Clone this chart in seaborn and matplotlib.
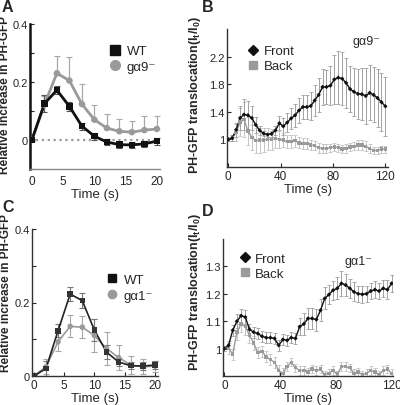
import numpy as np
import matplotlib
matplotlib.use("Agg")
import matplotlib.pyplot as plt
import seaborn as sns
from matplotlib.lines import Line2D

# ---- data ----
t_ac = [0, 2, 4, 6, 8, 10, 12, 14, 16, 18, 20]
a_wt = [0, 0.125, 0.172, 0.116, 0.048, 0.013, -0.007, -0.016, -0.017, -0.013, -0.004]
a_wt_err = [0.005, 0.03, 0.015, 0.015, 0.012, 0.012, 0.01, 0.01, 0.01, 0.01, 0.012]
a_g9 = [0, 0.122, 0.23, 0.205, 0.124, 0.07, 0.041, 0.03, 0.027, 0.034, 0.038]
a_g9_err = [0.005, 0.03, 0.058, 0.082, 0.07, 0.05, 0.048, 0.042, 0.04, 0.05, 0.045]

c_wt = [0, 0.02, 0.123, 0.223, 0.205, 0.125, 0.065, 0.038, 0.028, 0.027, 0.03]
c_wt_err = [0.003, 0.02, 0.018, 0.02, 0.02, 0.03, 0.02, 0.01, 0.01, 0.01, 0.01]
c_g1 = [0, 0.025, 0.093, 0.135, 0.133, 0.11, 0.075, 0.05, 0.03, 0.025, 0.027]
c_g1_err = [0.003, 0.02, 0.025, 0.03, 0.03, 0.045, 0.045, 0.035, 0.025, 0.02, 0.015]

t_bd = list(range(0, 121, 3))
b_front = [1.0, 1.02, 1.14, 1.31, 1.36, 1.35, 1.31, 1.21, 1.13, 1.085, 1.07, 1.08, 1.13, 1.235,
           1.19, 1.245, 1.305, 1.35, 1.42, 1.47, 1.47, 1.485, 1.565, 1.645, 1.76, 1.76, 1.78,
           1.87, 1.895, 1.88, 1.82, 1.73, 1.69, 1.66, 1.655, 1.63, 1.675, 1.645, 1.6, 1.54, 1.48]
b_front_err = [0.02, 0.04, 0.1, 0.18, 0.22, 0.2, 0.18, 0.12, 0.06, 0.04, 0.03, 0.04, 0.06, 0.1,
               0.12, 0.14, 0.15, 0.17, 0.18, 0.18, 0.17, 0.2, 0.22, 0.25, 0.26, 0.25, 0.28, 0.35,
               0.38, 0.38, 0.36, 0.33, 0.35, 0.36, 0.38, 0.4, 0.4, 0.4, 0.42, 0.42, 0.43]
b_back = [1.0, 1.02, 1.1, 1.25, 1.29, 1.12, 1.03, 0.98, 0.99, 0.99, 1.0, 1.0, 1.01, 1.0, 0.99,
          0.97, 0.97, 0.98, 0.95, 0.94, 0.94, 0.92, 0.91, 0.88, 0.87, 0.87, 0.88, 0.89, 0.88,
          0.86, 0.87, 0.89, 0.9, 0.92, 0.92, 0.9, 0.87, 0.84, 0.84, 0.86, 0.86]
b_back_err = [0.03, 0.05, 0.12, 0.2, 0.25, 0.2, 0.18, 0.18, 0.18, 0.17, 0.16, 0.15, 0.14, 0.12,
              0.1, 0.1, 0.09, 0.09, 0.08, 0.08, 0.08, 0.07, 0.07, 0.07, 0.06, 0.06, 0.06, 0.06,
              0.06, 0.06, 0.06, 0.06, 0.06, 0.07, 0.07, 0.07, 0.06, 0.05, 0.05, 0.05, 0.05]

d_front = [1.0, 1.012, 1.067, 1.1, 1.12, 1.115, 1.07, 1.06, 1.055, 1.045, 1.04, 1.04, 1.037,
           1.012, 1.033, 1.03, 1.04, 1.037, 1.08, 1.09, 1.11, 1.11, 1.106, 1.14, 1.183, 1.197,
           1.213, 1.22, 1.238, 1.232, 1.22, 1.207, 1.2, 1.198, 1.2, 1.21, 1.215, 1.21, 1.22,
           1.215, 1.238]
d_front_err = [0.01, 0.015, 0.02, 0.025, 0.025, 0.025, 0.02, 0.02, 0.02, 0.02, 0.02, 0.02, 0.02,
               0.02, 0.02, 0.02, 0.02, 0.02, 0.03, 0.04, 0.04, 0.04, 0.04, 0.04, 0.04, 0.035,
               0.035, 0.04, 0.045, 0.04, 0.035, 0.035, 0.03, 0.03, 0.03, 0.03, 0.03, 0.03, 0.03,
               0.035, 0.03]
d_back = [1.0, 1.0, 0.98, 1.06, 1.09, 1.08, 1.05, 1.02, 0.985, 0.99, 0.97, 0.96, 0.95, 0.92,
          0.91, 0.935, 0.95, 0.93, 0.92, 0.92, 0.915, 0.925, 0.92, 0.925, 0.905, 0.91, 0.92,
          0.905, 0.935, 0.935, 0.93, 0.91, 0.915, 0.905, 0.91, 0.92, 0.915, 0.905, 0.92, 0.925,
          0.91]
d_back_err = [0.01, 0.02, 0.02, 0.03, 0.03, 0.03, 0.03, 0.025, 0.02, 0.02, 0.02, 0.02, 0.02,
              0.02, 0.02] + [0.015] * 26

BLACK = "#111111"
GRAY = "#9a9a9a"
EGRAY = "#a8a8a8"

sns.set_style("ticks")
plt.rcParams["font.family"] = ["Liberation Sans", "DejaVu Sans"]
plt.rcParams["mathtext.default"] = "regular"
plt.rcParams["axes.linewidth"] = 1.0

fig = plt.figure(figsize=(4.0, 4.06), dpi=100)
W, H = 400, 406


def add_ax(left, top, right, bottom):
    return fig.add_axes([left / W, 1 - bottom / H, (right - left) / W, (bottom - top) / H])


ax_a = add_ax(30, 25, 160, 170)
ax_b = add_ax(227, 30, 388, 168)
ax_c = add_ax(32, 230, 158, 377)
ax_d = add_ax(223, 240, 393, 377)


def style(ax):
    sns.despine(ax=ax)
    ax.tick_params(direction="in", length=3, width=0.8, labelsize=8.5, pad=2)
    ax.tick_params(axis="y", labelsize=8, pad=1.5)
    for s in ax.spines.values():
        s.set_color("#333333")


def ylab(ax, text, x, y, size=9):
    ax.set_ylabel(text, fontsize=size, fontweight="bold")
    ax.yaxis.set_label_coords(x, y)


# ---- Panel A ----
ax = ax_a
ax.axhline(0, color=GRAY, ls=":", lw=1.6, zorder=1)
ax.errorbar(t_ac, a_g9, yerr=[np.zeros(len(a_g9)), a_g9_err], fmt="none", ecolor=EGRAY,
            elinewidth=0.9, capsize=2, capthick=0.8, zorder=2)
ax.errorbar(t_ac, a_wt, yerr=a_wt_err, fmt="none", ecolor="#555555",
            elinewidth=0.9, capsize=2, capthick=0.8, zorder=2)
sns.lineplot(x=t_ac, y=a_g9, ax=ax, color=GRAY, lw=2, zorder=3)
sns.lineplot(x=t_ac, y=a_wt, ax=ax, color=BLACK, lw=2, zorder=4)
sns.scatterplot(x=t_ac, y=a_g9, ax=ax, color=GRAY, marker="o", s=22, edgecolor="none", zorder=5)
sns.scatterplot(x=t_ac, y=a_wt, ax=ax, color=BLACK, marker="s", s=22, edgecolor="none", zorder=6)
ax.set_xlim(-0.3, 20.5)
ax.set_ylim(-0.1, 0.4)
ax.set_xticks([0, 5, 10, 15, 20])
ax.set_yticks([0, 0.2, 0.4])
ax.set_yticklabels(["0", "0.2", "0.4"])
ax.set_yticks([-0.1, 0.1, 0.3], minor=True)
style(ax)
ax.tick_params(which="minor", direction="in", length=3, width=0.8)
ax.spines["left"].set_linewidth(1.8)
ax.spines["left"].set_color(BLACK)
ax.spines["bottom"].set_color("#888888")
ax.tick_params(axis="x", length=0, pad=4)
ax.set_xlabel("Time (s)", fontsize=9.5, labelpad=1)
ylab(ax, "Relative increase in PH-GFP", -0.148, 0.52, size=8.5)
h = [Line2D([], [], ls="none", marker="s", ms=7, color=BLACK),
     Line2D([], [], ls="none", marker="o", ms=7, color=GRAY)]
ax.legend(h, ["WT", "gα9⁻"], loc="upper left", bbox_to_anchor=(0.54, 0.9), frameon=False,
          fontsize=9.5, handletextpad=0.3, labelspacing=0.25, borderpad=0, handlelength=1.2)

# ---- Panel C ----
ax = ax_c
ax.errorbar(t_ac, c_g1, yerr=c_g1_err, fmt="none", ecolor=EGRAY,
            elinewidth=0.8, capsize=2, capthick=0.8, zorder=2)
ax.errorbar(t_ac, c_wt, yerr=c_wt_err, fmt="none", ecolor="#777777",
            elinewidth=0.8, capsize=2, capthick=0.8, zorder=2)
sns.lineplot(x=t_ac, y=c_g1, ax=ax, color=GRAY, lw=1.2, zorder=3)
sns.lineplot(x=t_ac, y=c_wt, ax=ax, color="#222222", lw=1.2, zorder=4)
sns.scatterplot(x=t_ac, y=c_g1, ax=ax, color=GRAY, marker="o", s=16, edgecolor="none", zorder=5)
sns.scatterplot(x=t_ac, y=c_wt, ax=ax, color="#333333", marker="s", s=16, edgecolor="none", zorder=6)
ax.set_xlim(-0.3, 20.5)
ax.set_ylim(0, 0.4)
ax.set_xticks([0, 5, 10, 15, 20])
ax.set_yticks([0, 0.2, 0.4])
ax.set_yticklabels(["0", "0.2", "0.4"])
ax.set_yticks([0.1, 0.3], minor=True)
style(ax)
ax.tick_params(which="minor", direction="in", length=3, width=0.8)
ax.set_xlabel("Time (s)", fontsize=9.5, labelpad=1)
ylab(ax, "Relative increase in PH-GFP", -0.16, 0.57, size=8.5)
h = [Line2D([], [], ls="none", marker="s", ms=6, color=BLACK),
     Line2D([], [], ls="none", marker="o", ms=6, color=GRAY)]
ax.legend(h, ["WT", "gα1⁻"], loc="upper left", bbox_to_anchor=(0.52, 0.74), frameon=False,
          fontsize=9.5, handletextpad=0.3, labelspacing=0.25, borderpad=0, handlelength=1.2)


# ---- Panels B and D ----
def time_course(ax, front, front_err, back, back_err):
    ax.errorbar(t_bd, back, yerr=back_err, fmt="none", ecolor="#c4c4c4",
                elinewidth=0.7, capsize=1.5, capthick=0.6, zorder=2)
    ax.errorbar(t_bd, front, yerr=front_err, fmt="none", ecolor="#a0a0a0",
                elinewidth=0.7, capsize=1.5, capthick=0.6, zorder=2)
    sns.lineplot(x=t_bd, y=back, ax=ax, color=GRAY, lw=1.0, zorder=3)
    sns.lineplot(x=t_bd, y=front, ax=ax, color=BLACK, lw=1.0, zorder=4)
    sns.scatterplot(x=t_bd, y=back, ax=ax, color=GRAY, marker="s", s=6, edgecolor="none", zorder=5)
    sns.scatterplot(x=t_bd, y=front, ax=ax, color=BLACK, marker="D", s=5, edgecolor="none", zorder=6)
    ax.set_xticks([0, 40, 80, 120])
    style(ax)
    ax.set_xlabel("Time (s)", fontsize=9.5, labelpad=1)
    h = [Line2D([], [], ls="none", marker="D", ms=5, color=BLACK),
         Line2D([], [], ls="none", marker="s", ms=6, color=GRAY)]
    return h


h = time_course(ax_b, b_front, b_front_err, b_back, b_back_err)
ax_b.set_xlim(-1, 122)
ax_b.set_ylim(0.6, 2.6)
ax_b.set_yticks([1, 1.4, 1.8, 2.2])
ax_b.set_yticklabels(["1", "1.4", "1.8", "2.2"])
ylab(ax_b, "PH-GFP translocation(I$_t$/I$_0$)", -0.15, 0.53)
ax_b.text(0.95, 0.915, "gα9⁻", transform=ax_b.transAxes, ha="right", va="center", fontsize=9)
ax_b.legend(h, ["Front", "Back"], loc="upper left", bbox_to_anchor=(0.08, 0.93), frameon=False,
            fontsize=9.5, handletextpad=0.3, labelspacing=0.2, borderpad=0, handlelength=1.0)

h = time_course(ax_d, d_front, d_front_err, d_back, d_back_err)
ax_d.set_xlim(-1, 121)
ax_d.set_ylim(0.9, 1.4)
ax_d.set_yticks([1, 1.1, 1.2, 1.3])
ax_d.set_yticklabels(["1", "1.1", "1.2", "1.3"])
ylab(ax_d, "PH-GFP translocation(I$_t$/I$_0$)", -0.12, 0.62)
ax_d.text(0.88, 0.84, "gα1⁻", transform=ax_d.transAxes, ha="right", va="center", fontsize=9)
ax_d.legend(h, ["Front", "Back"], loc="upper left", bbox_to_anchor=(0.05, 0.95), frameon=False,
            fontsize=9.5, handletextpad=0.3, labelspacing=0.2, borderpad=0, handlelength=1.0)

for lab, x, y in [("A", 2, 0), ("B", 202, 0), ("C", 2, 200), ("D", 202, 204)]:
    fig.text(x / W, 1 - y / H, lab, fontsize=11.5, fontweight="bold", ha="left", va="top")

fig.savefig("out.png", dpi=100)
